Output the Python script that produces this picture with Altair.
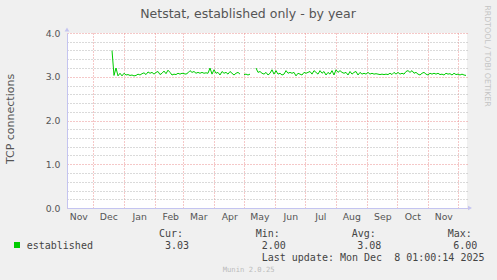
import altair as alt
import pandas as pd

# ---------------- data ----------------
series_start = pd.Timestamp("2024-12-19T17:00:00")
step_days = 2
established = [
    3.60, 3.03, 3.20, 3.02, 3.08, 3.02, 3.08, 3.04, 3.05, 3.03,
    3.04, 3.02, 3.03, 3.06, 3.04, 3.07, 3.09, 3.05, 3.11, 3.08,
    3.10, 3.06, 3.10, 3.12, 3.05, 3.08, 3.13, 3.07, 3.15, 3.10,
    3.04, 3.06, 3.05, 3.08, 3.06, 3.08, 3.07, 3.06, 3.09, 3.14,
    3.10, 3.12, 3.08, 3.10, 3.08, 3.10, 3.08, 3.09, 3.08, 3.20,
    3.06, 3.16, 3.08, 3.10, 3.04, 3.12, 3.08, 3.10, 3.06, 3.12,
    3.08, 3.04, 3.08, 3.10, 3.06, None, 3.05, 3.06, 3.04, 3.06,
    None, None, 3.20, 3.10, 3.12, 3.08, 3.06, 3.10, 3.04, 3.08,
    3.16, 3.06, 3.14, 3.06, 3.08, 3.04, 3.06, 3.14, 3.08, 3.10,
    3.08, 3.10, 3.02, 3.08, 3.06, 3.04, 3.10, 3.08, 3.10, 3.12,
    3.06, 3.14, 3.10, 3.06, 3.14, 3.08, 3.12, 3.04, 3.10, 3.06,
    3.14, 3.04, 3.16, 3.10, 3.14, 3.10, 3.08, 3.10, 3.04, 3.12,
    3.06, 3.10, 3.12, 3.04, 3.10, 3.06, 3.08, 3.06, 3.10, 3.06,
    3.08, 3.06, 3.07, 3.06, 3.05, 3.06, 3.05, 3.06, 3.05, 3.08,
    3.05, 3.10, 3.06, 3.10, 3.06, 3.08, 3.06, 3.12, 3.14, 3.10,
    3.14, 3.08, 3.10, 3.06, 3.04, 3.08, 3.10, 3.06, 3.04, 3.08,
    3.06, 3.08, 3.06, 3.08, 3.05, 3.06, 3.04, 3.08, 3.06, 3.07,
    3.04, 3.08, 3.05, 3.06, 3.04, 3.06, 3.04, 3.03,
]

domain_start = (2024, 11, 4, 17)
domain_end = (2025, 12, 9, 17)
month_starts = [(2024, 12, 1)] + [(2025, m, 1) for m in range(1, 13)]
month_label_days = [(2024, 11, 16), (2024, 12, 16)] + [(2025, m, 16) for m in range(1, 12)]
y_major = [0, 1, 2, 3, 4]
y_minor = [0.2, 0.4, 0.6, 0.8, 1.2, 1.4, 1.6, 1.8, 2.2, 2.4, 2.6, 2.8, 3.2, 3.4, 3.6, 3.8]

title_text = "Netstat, established only - by year"
y_title = "TCP connections"
series_name = "established"
cur_val, min_val, avg_val, max_val = "3.03", "2.00", "3.08", "6.00"
last_update = "Last update: Mon Dec \u00a08 01:00:14 2025"
watermark = "Munin 2.0.25"
side_text = "RRDTOOL / TOBI OETIKER"

# ---------------- table ----------------
rows = []
seg = 0
for i, v in enumerate(established):
    if v is None:
        seg += 1
        continue
    rows.append({"t": series_start + pd.Timedelta(days=i * step_days), "v": v, "seg": seg})
df = pd.DataFrame(rows)


def dt(tup):
    y, m, d = tup[0], tup[1], tup[2]
    h = tup[3] if len(tup) > 3 else 0
    return alt.DateTime(year=y, month=m, date=d, hours=h)


RED = "#ea9090"
GRAY = "#b4b4b4"
AXIS_BLUE = "#c4c4f0"
TXT = "#555555"

x_scale = alt.Scale(domain=[dt(domain_start), dt(domain_end)])
y_scale = alt.Scale(domain=[0, 4], nice=False, zero=False)

grid_layer = alt.Chart(df).mark_line(opacity=0).encode(
    x=alt.X("t:T", scale=x_scale, axis=alt.Axis(
        values=[dt(d) for d in month_label_days], format="%b", grid=False, ticks=False,
        domain=False, labelFontSize=9.3, labelFont="DejaVu Sans", labelColor=TXT,
        labelPadding=4, labelFlush=False, labelOverlap=False, title=None, orient="bottom")),
    y=alt.Y("v:Q", scale=y_scale, axis=alt.Axis(
        values=y_minor, grid=True, gridColor=GRAY, gridDash=[1, 2], labels=False,
        ticks=False, domain=False, title=None, orient="left")),
    detail="seg:N",
)

main = alt.Chart(df).mark_line(color="#00cc00", strokeWidth=1).encode(
    x=alt.X("t:T", scale=x_scale, axis=alt.Axis(
        values=[dt(d) for d in month_starts], labels=False, ticks=False, grid=True,
        gridColor=RED, gridDash=[1, 2], domainColor=AXIS_BLUE, title=None, orient="bottom")),
    y=alt.Y("v:Q", scale=y_scale, axis=alt.Axis(
        values=y_major, format=".1f", grid=True, gridColor=RED, gridDash=[1, 2],
        ticks=False, labelPadding=7, domainColor=AXIS_BLUE, title=None,
        labelFontSize=9.3, labelFont="DejaVu Sans", labelColor=TXT, orient="left")),
    detail="seg:N",
)

one = pd.DataFrame({"a": [0]})


def txt(s, x, y, size=10, font="DejaVu Sans Mono", color="#444444", align="left", angle=0, baseline="alphabetic"):
    return alt.Chart(one).mark_text(
        font=font, fontSize=size, color=color, align=align, baseline=baseline, angle=angle
    ).encode(x=alt.value(x), y=alt.value(y), text=alt.value(s))


decor = [
    txt(title_text, 181, -15.5, size=12.5, font="DejaVu Sans", color=TXT, align="center"),
    txt(y_title, -56, 86, size=11, font="DejaVu Sans", color=TXT, align="center", angle=270, baseline="middle"),
    txt(side_text, 420, 23, size=7.9, font="DejaVu Sans", color="#c4c4c4", align="center", angle=90, baseline="middle"),
    txt("Cur:", 92, 204), txt(cur_val, 98, 215.7),
    txt("Min:", 188.7, 204), txt(min_val, 194.7, 215.7),
    txt("Avg:", 284.7, 204), txt(avg_val, 290.3, 215.7),
    txt("Max:", 380.7, 204), txt(max_val, 386.3, 215.7),
    txt(series_name, -40.3, 215.7),
    txt(last_update, 194.7, 228.3),
    txt(watermark, 155.7, 239, size=7.2, color="#bbbbbb"),
    alt.Chart(one).mark_square(size=36, color="#00cc00", opacity=1).encode(
        x=alt.value(-50), y=alt.value(212)),
    alt.Chart(one).mark_point(shape="triangle-up", filled=True, size=22, color=AXIS_BLUE, opacity=1).encode(
        x=alt.value(0), y=alt.value(-3.5)),
    alt.Chart(one).mark_point(shape="triangle-right", filled=True, size=22, color=AXIS_BLUE, opacity=1).encode(
        x=alt.value(403), y=alt.value(175)),
]

chart = alt.layer(grid_layer, main, *decor).resolve_axis(
    x="independent", y="independent"
).properties(
    width=400, height=175,
    autosize=alt.AutoSizeParams(type="none"),
    padding={"left": 67, "top": 33, "right": 30, "bottom": 72},
    background="#f0f0f0",
).configure_view(fill="white", stroke=None)

chart.save("out.html", embed_options={"renderer": "svg", "actions": False})
